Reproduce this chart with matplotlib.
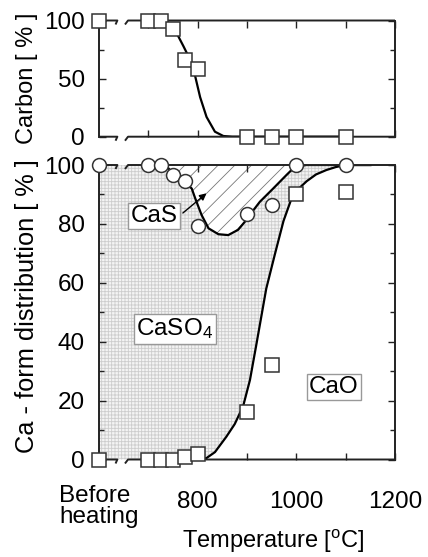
import numpy as np
import matplotlib
matplotlib.use("Agg")
import matplotlib.pyplot as plt
import matplotlib.transforms as mtransforms

plt.rcParams['font.family'] = ['Liberation Sans', 'DejaVu Sans']
plt.rcParams['mathtext.fontset'] = 'custom'
plt.rcParams['mathtext.rm'] = 'Liberation Sans'
plt.rcParams['mathtext.it'] = 'Liberation Sans:italic'
plt.rcParams['hatch.linewidth'] = 0.6

# ---- data -------------------------------------------------------------
# measured points (600 stands for the "before heating" sample)
carbon_temp = [600, 700, 725, 750, 775, 800, 900, 950, 1000, 1100]
carbon_pct = [100, 100, 100, 93, 66, 58, 0, 0, 0, 0]

ca_temp = [600, 700, 725, 750, 775, 800, 900, 950, 1000, 1100]
cao_pct = [0, 0, 0, 0, 1, 2, 16, 32, 90, 91]
cao_caso4_pct = [100, 100, 100, 96.6, 94.6, 79.4, 83.4, 86.5, 100, 100]

# hand-drawn trend lines
carbon_fit_temp = [700, 727, 740, 751, 760, 771, 785, 795, 805, 818, 835, 852, 870, 900, 1100]
carbon_fit_pct = [100, 100, 98.5, 93, 87, 78, 66, 52, 34, 17, 4.3, 0.6, 0, 0, 0]

sum_fit_temp = [727, 740, 752, 765, 776, 788, 795, 808, 822, 842, 862, 882, 896, 910,
                926, 953, 980, 997, 1020, 1150]
sum_fit_pct = [100, 99, 96.8, 95.5, 94, 92, 88.7, 83, 78.5, 76.5, 76.2, 78, 80.8, 84,
               87.5, 92, 96.6, 99.4, 100, 100]

cao_fit_temp = [805, 818, 835, 858, 875, 892, 906, 920, 939, 957, 974, 990, 1005, 1021,
                1040, 1061, 1080, 1100, 1150]
cao_fit_pct = [0, 0.5, 2.5, 7.7, 12, 18, 27, 40, 58, 70, 81, 88.5, 92, 94.5,
               96.8, 98.3, 99.3, 100, 100]

x_ticks = [700, 800, 900, 1000, 1100, 1200]
x_ticklabels = ['', '800', '', '1000', '', '1200']
carbon_ticks = [0, 50, 100]
ca_ticks = [0, 20, 40, 60, 80, 100]

# ---- figure -----------------------------------------------------------
W, H = 428, 557
fig = plt.figure(figsize=(W / 100, H / 100), dpi=100)
L, R = 99, 395
ax1 = fig.add_axes([L / W, 1 - 136.7 / H, (R - L) / W, (136.7 - 20.5) / H])
ax2 = fig.add_axes([L / W, 1 - 459.5 / H, (R - L) / W, (459.5 - 165) / H])

FS = 17.5
SPINE = '#222222'
EDGE = '#333333'
LW = 1.4
CURVE_LW = 1.6

for ax in (ax1, ax2):
    ax.set_xlim(600, 1200)
    ax.set_xticks(x_ticks)
    ax.tick_params(which='both', direction='in', top=True, right=True,
                   width=1.0, color=SPINE, labelsize=FS)
    ax.tick_params(which='major', length=5)
    ax.tick_params(which='minor', length=3.5)
    ax.tick_params(axis='y', pad=10)
    for s in ax.spines.values():
        s.set_linewidth(LW)
        s.set_color(SPINE)
    ax.spines['top'].set_visible(False)
    ax.spines['bottom'].set_visible(False)
    ax.set_facecolor('none')

    # broken top/bottom spines between "before heating" and 700 degC
    xa, xb = 0.062, 0.098
    dx = 3.0 / (R - L)
    for yy in (0.0, 1.0):
        hh = 4.0 / (ax.get_position().height * H)
        ax.plot([0, xa, xa - dx * 0.6], [yy, yy, yy - hh], color=SPINE, lw=LW,
                transform=ax.transAxes, clip_on=False, solid_capstyle='butt', zorder=5)
        ax.plot([xb - dx, xb, 1], [yy - hh, yy, yy], color=SPINE, lw=LW,
                transform=ax.transAxes, clip_on=False, solid_capstyle='butt', zorder=5)

# ---- carbon panel -----------------------------------------------------
ax1.set_ylim(0, 100)
ax1.set_yticks(carbon_ticks)
ax1.set_yticks([25, 75], minor=True)
ax1.set_xticklabels([])
ax1.plot(carbon_fit_temp, carbon_fit_pct, color='black', lw=CURVE_LW, zorder=3)
ax1.plot(carbon_temp, carbon_pct, ls='none', marker='s', ms=9.4, mfc='white',
         mec=EDGE, mew=1.1, clip_on=False, zorder=6)

# ---- Ca-form panel ----------------------------------------------------
ax2.set_ylim(0, 100)
ax2.set_yticks(ca_ticks)
ax2.set_yticks([10, 30, 50, 70, 90], minor=True)
ax2.set_xticklabels(x_ticklabels)
ax2.tick_params(axis='x', pad=23)

# CaSO4 region: between CaO trend and CaO+CaSO4 trend (capped at 100)
top_x = np.concatenate([[600], sum_fit_temp])
top_y = np.concatenate([[100], sum_fit_pct])
bot_x = np.concatenate([[600], cao_fit_temp])
bot_y = np.concatenate([[0], cao_fit_pct])
poly_x = np.concatenate([top_x, bot_x[::-1]])
poly_y = np.concatenate([top_y, bot_y[::-1]])
ax2.fill(poly_x, poly_y, facecolor='#f4f4f4', edgecolor='#cdcdcd', lw=0,
         hatch='+++++', zorder=1)

# CaS region: above CaO+CaSO4 trend
ax2.fill(np.array(sum_fit_temp), np.array(sum_fit_pct), facecolor='white',
         edgecolor='#777777', lw=0, hatch='//', zorder=1.5)

ax2.plot(sum_fit_temp, sum_fit_pct, color='black', lw=CURVE_LW, zorder=3)
ax2.plot(cao_fit_temp, cao_fit_pct, color='black', lw=CURVE_LW, zorder=3)

ax2.plot(ca_temp, cao_caso4_pct, ls='none', marker='o', ms=10, mfc='white',
         mec=EDGE, mew=1.1, clip_on=False, zorder=6)
ax2.plot(ca_temp, cao_pct, ls='none', marker='s', ms=9.4, mfc='white',
         mec=EDGE, mew=1.1, clip_on=False, zorder=6)

box = dict(boxstyle='square,pad=0.1', facecolor='white', edgecolor='#999999', lw=1.0)
ax2.annotate('', xy=(818, 90.4), xytext=(770, 83.7),
             arrowprops=dict(arrowstyle='-|>', color='black', lw=1.0,
                             mutation_scale=10, shrinkA=0, shrinkB=0), zorder=7)
ax2.text(711, 82.7, 'CaS', fontsize=FS, ha='center', va='center', bbox=box, zorder=8)
ax2.text(754, 44.3, 'CaSO$_4$', fontsize=FS, ha='center', va='center', bbox=box, zorder=8)
ax2.text(1076, 24.6, 'CaO', fontsize=FS, ha='center', va='center', bbox=box, zorder=8)

trans = mtransforms.blended_transform_factory(ax2.transData, ax2.transAxes)
ax2.text(600, -0.16, 'Before\nheating', transform=trans, fontsize=FS, ha='center',
         va='center', multialignment='left', linespacing=0.95)

fig.text(27 / W, 1 - 78.6 / H, 'Carbon [ % ]', rotation=90, fontsize=17,
         ha='center', va='center')
fig.text(27 / W, 1 - 306 / H, 'Ca - form distribution [ % ]', rotation=90, fontsize=18.3,
         ha='center', va='center')
fig.text(273 / W, 1 - 541 / H, 'Temperature [$^{\\rm o}$C]', fontsize=17,
         ha='center', va='center')

fig.savefig('out.png', dpi=100)
